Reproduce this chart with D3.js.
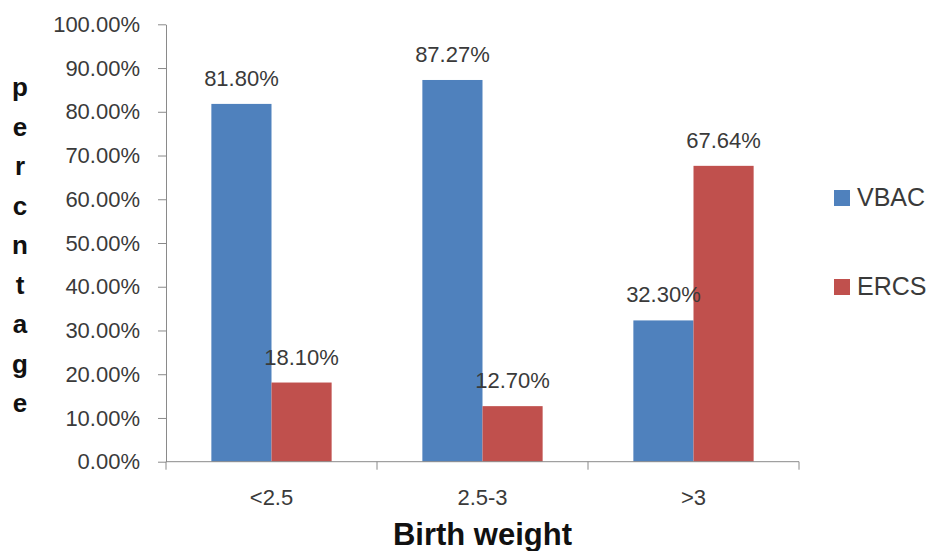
<!DOCTYPE html>
<html>
<head>
<meta charset="utf-8">
<script src="https://cdn.jsdelivr.net/npm/d3@7"></script>
<style>
  html, body { margin: 0; padding: 0; background: #fff; }
  svg { display: block; font-family: "Liberation Sans", Arial, sans-serif; }
</style>
</head>
<body>
<svg id="chart" width="930" height="551"></svg>
<script>
// Birth weight groups and the share of each delivery outcome (percent)
const categories = ["<2.5", "2.5-3", ">3"];
const seriesNames = ["VBAC", "ERCS"];
const vbacValues = [81.80, 87.27, 32.30];
const ercsValues = [18.10, 12.70, 67.64];
const yTickValues = [0, 10, 20, 30, 40, 50, 60, 70, 80, 90, 100];
const yTitle = "percntage";
const xTitle = "Birth weight";

const colors = { VBAC: "#4F81BD", ERCS: "#C0504D" };
const series = [
  { name: "VBAC", values: vbacValues },
  { name: "ERCS", values: ercsValues }
];

const svg = d3.select("#chart");
const plot = { left: 166, right: 799, top: 24.3, bottom: 461.7 };

const x = d3.scaleBand()
  .domain(categories)
  .range([plot.left, plot.right])
  .paddingInner(0.43)
  .paddingOuter(0.215);

const xSub = d3.scaleBand()
  .domain(seriesNames)
  .range([0, x.bandwidth()]);

const y = d3.scaleLinear()
  .domain([0, 100])
  .range([plot.bottom, plot.top]);

const axisColor = "#8a8a8a";
const labelColor = "#3a3a3a";

// Left axis with percentage ticks
const yAxis = svg.append("g")
  .attr("transform", `translate(${plot.left},0)`)
  .call(d3.axisLeft(y)
    .tickValues(yTickValues)
    .tickSizeInner(8)
    .tickSizeOuter(0)
    .tickPadding(18)
    .tickFormat(d => d3.format(".2f")(d) + "%"));
yAxis.select(".domain").attr("stroke", axisColor);
yAxis.selectAll(".tick line").attr("stroke", axisColor);
yAxis.selectAll(".tick text")
  .attr("fill", labelColor)
  .style("font-size", "22px");

// Bars
const groups = svg.append("g")
  .selectAll("g")
  .data(categories)
  .join("g")
  .attr("transform", d => `translate(${x(d)},0)`);

groups.selectAll("rect")
  .data((c, i) => series.map(s => ({ name: s.name, value: s.values[i] })))
  .join("rect")
  .attr("x", d => xSub(d.name))
  .attr("y", d => y(d.value))
  .attr("width", xSub.bandwidth())
  .attr("height", d => y(0) - y(d.value))
  .attr("fill", d => colors[d.name]);

// Value labels above each bar
groups.selectAll("text.value")
  .data((c, i) => series.map(s => ({ name: s.name, value: s.values[i] })))
  .join("text")
  .attr("class", "value")
  .attr("x", d => xSub(d.name) + xSub.bandwidth() / 2)
  .attr("y", d => y(d.value) - 18)
  .attr("text-anchor", "middle")
  .attr("fill", labelColor)
  .style("font-size", "22px")
  .text(d => d.value.toFixed(2) + "%");

// Bottom axis: category labels, ticks between categories
const xAxis = svg.append("g")
  .attr("transform", `translate(0,${plot.bottom})`)
  .call(d3.axisBottom(x).tickSize(0).tickPadding(28));
xAxis.select(".domain").remove();
xAxis.selectAll(".tick text")
  .attr("fill", labelColor)
  .style("font-size", "22px");

svg.append("line")
  .attr("x1", plot.left).attr("x2", plot.right)
  .attr("y1", plot.bottom).attr("y2", plot.bottom)
  .attr("stroke", axisColor);

const half = x.step() * x.paddingInner() / 2;
const boundaries = [x(categories[0]) - half]
  .concat(categories.map(c => x(c) + x.bandwidth() + half));
svg.append("g")
  .selectAll("line")
  .data(boundaries)
  .join("line")
  .attr("x1", d => d).attr("x2", d => d)
  .attr("y1", plot.bottom).attr("y2", plot.bottom + 8)
  .attr("stroke", axisColor);

// Axis titles
const yt = svg.append("text")
  .attr("fill", "#111")
  .attr("text-anchor", "middle")
  .style("font-size", "26px")
  .style("font-weight", "bold");
yt.selectAll("tspan")
  .data(yTitle.split(""))
  .join("tspan")
  .attr("x", 20)
  .attr("y", (d, i) => 96 + i * 39.5)
  .text(d => d);

svg.append("text")
  .attr("x", (plot.left + plot.right) / 2)
  .attr("y", 545)
  .attr("text-anchor", "middle")
  .attr("fill", "#111")
  .style("font-size", "31px")
  .style("font-weight", "bold")
  .text(xTitle);

// Legend
const legend = svg.append("g")
  .selectAll("g")
  .data(seriesNames)
  .join("g")
  .attr("transform", (d, i) => `translate(834,${190 + i * 89})`);
legend.append("rect")
  .attr("width", 16).attr("height", 16)
  .attr("fill", d => colors[d]);
legend.append("text")
  .attr("x", 23)
  .attr("y", 16)
  .attr("fill", labelColor)
  .style("font-size", "25px")
  .text(d => d);
</script>
</body>
</html>
